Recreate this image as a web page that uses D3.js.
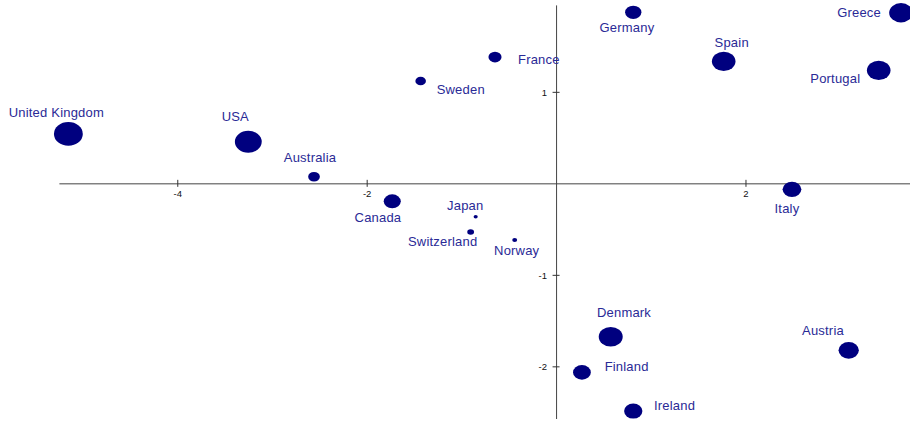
<!DOCTYPE html>
<html>
<head>
<meta charset="utf-8">
<script src="https://cdn.jsdelivr.net/npm/d3@7"></script>
<style>
  html, body { margin: 0; padding: 0; background: #fff; }
  svg { display: block; }
</style>
</head>
<body>
<svg id="chart" width="910" height="421"></svg>
<script>
// ---- data ----
const countries = ["United Kingdom","USA","Australia","Canada","Sweden","France","Germany","Spain","Greece","Portugal","Italy","Japan","Switzerland","Norway","Denmark","Finland","Ireland","Austria"];
const xValues = [-5.15,-3.25,-2.556,-1.73,-1.43,-0.645,0.815,1.77,3.642,3.407,2.491,-0.849,-0.902,-0.437,0.577,0.273,0.815,3.09];
const yValues = [0.54,0.455,0.072,-0.197,1.118,1.38,1.869,1.333,1.864,1.235,-0.066,-0.365,-0.532,-0.62,-1.677,-2.066,-2.489,-1.825];
const sizeValues = [97,84,16,34,13,20,31,65,65,65,41,2,5.4,2.8,67,37,39,48];
const xTicks = [-4,-2,2];
const yTicks = [1,-1,-2];

// ---- label layout (anchor, dx, dy from point centre) ----
const labelLayout = {
  "United Kingdom": ["middle",-12,-17],
  "USA": ["middle",-13,-21],
  "Australia": ["middle",-4,-14.7],
  "Canada": ["middle",-14.3,21],
  "Sweden": ["start",16,13],
  "France": ["start",23,7],
  "Germany": ["middle",-6.3,19.4],
  "Spain": ["middle",8,-14.6],
  "Greece": ["end",-20,4.6],
  "Portugal": ["end",-18.4,13],
  "Italy": ["middle",-5,23.4],
  "Japan": ["middle",-10.4,-6.7],
  "Switzerland": ["middle",-28,14],
  "Norway": ["middle",2,14.7],
  "Denmark": ["middle",13.3,-20],
  "Finland": ["start",22.7,-1.6],
  "Ireland": ["start",20.7,-1],
  "Austria": ["middle",-25.7,-15.3]
};

const points = countries.map((c,i) => ({name:c, x:xValues[i], y:yValues[i], s:sizeValues[i]}));

const svg = d3.select("#chart");
const x = d3.scaleLinear().domain([-5.25, 3.75]).range([58.9, 911.2]);
const y = d3.scaleLinear().domain([1.95, -2.57]).range([4.9, 418.5]);
const r = d3.scaleSqrt().domain([0, 100]).range([0, 12]);
const stretch = 1.22;

const font = "'Liberation Sans', Arial, sans-serif";
const tickFmt = d => String(d);

// x axis
const gx = svg.append("g")
  .attr("transform", `translate(0,${y(0)})`)
  .call(d3.axisBottom(x).tickValues(xTicks).tickSizeOuter(0).tickSizeInner(3.5).tickFormat(tickFmt));
gx.select(".domain").attr("stroke", "#444");
gx.selectAll(".tick line").attr("y1", -3.5).attr("y2", 3.5).attr("stroke", "#333");
gx.selectAll(".tick text").attr("y", 13.5).attr("dy", 0)
  .attr("font-family", font).attr("font-size", 9.5).attr("fill", "#111");

// y axis
const gy = svg.append("g")
  .attr("transform", `translate(${x(0)},0)`)
  .call(d3.axisLeft(y).tickValues(yTicks).tickSizeOuter(0).tickSizeInner(3.5).tickFormat(tickFmt));
gy.select(".domain").attr("stroke", "#444");
gy.selectAll(".tick line").attr("x1", -3.5).attr("x2", 3.5).attr("stroke", "#333");
gy.selectAll(".tick text").attr("x", -9).attr("dy", "0.34em")
  .attr("font-family", font).attr("font-size", 9.5).attr("fill", "#111");

// bubbles
svg.append("g").selectAll("ellipse").data(points).join("ellipse")
  .attr("cx", d => x(d.x))
  .attr("cy", d => y(d.y))
  .attr("rx", d => r(d.s) * stretch)
  .attr("ry", d => r(d.s))
  .attr("fill", "#00007f");

// labels
svg.append("g").selectAll("text").data(points).join("text")
  .attr("x", d => x(d.x) + labelLayout[d.name][1])
  .attr("y", d => y(d.y) + labelLayout[d.name][2])
  .attr("text-anchor", d => labelLayout[d.name][0])
  .attr("font-family", font)
  .attr("font-size", 13)
  .attr("letter-spacing", 0.2)
  .attr("fill", "#2a2a96")
  .text(d => d.name);
</script>
</body>
</html>
